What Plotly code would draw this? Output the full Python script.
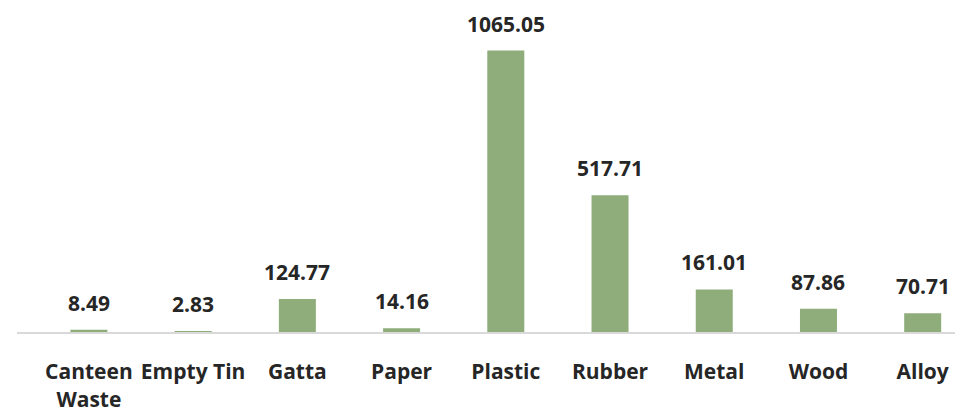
import plotly.graph_objects as go

categories = ["Canteen<br>Waste", "Empty Tin", "Gatta", "Paper", "Plastic", "Rubber", "Metal", "Wood", "Alloy"]
values = [8.49, 2.83, 124.77, 14.16, 1065.05, 517.71, 161.01, 87.86, 70.71]
value_labels = ["8.49", "2.83", "124.77", "14.16", "1065.05", "517.71", "161.01", "87.86", "70.71"]

FONT = "Open Sans"
TXT = "#262626"

fig = go.Figure()
fig.add_trace(go.Bar(
    x=list(range(len(categories))), y=values,
    marker=dict(color="#8EAD7B", line=dict(width=0)),
    width=0.355,
    hoverinfo="skip",
))

for i, (v, lab) in enumerate(zip(values, value_labels)):
    fig.add_annotation(
        x=i, y=v, text=lab, showarrow=False, yanchor="bottom", yshift=11,
        font=dict(family=FONT, size=21, color=TXT, weight="bold"),
    )

fig.update_layout(
    width=964, height=412,
    margin=dict(l=17, r=9, t=12, b=80, autoexpand=False),
    paper_bgcolor="white", plot_bgcolor="white",
    showlegend=False,
    xaxis=dict(
        tickmode="array", tickvals=list(range(len(categories))), ticktext=categories,
        range=[-0.69, 8.31], automargin=False,
        showline=True, linecolor="#D9D9D9", linewidth=2,
        showgrid=False, zeroline=False,
        ticks="outside", ticklen=20, tickcolor="rgba(0,0,0,0)",
        tickfont=dict(family=FONT, size=21, color=TXT, weight="bold"),
        tickangle=0,
    ),
    yaxis=dict(
        range=[0, 1210.7], visible=False, showgrid=False, zeroline=False, automargin=False,
    ),
)

fig.write_html("out.html")
